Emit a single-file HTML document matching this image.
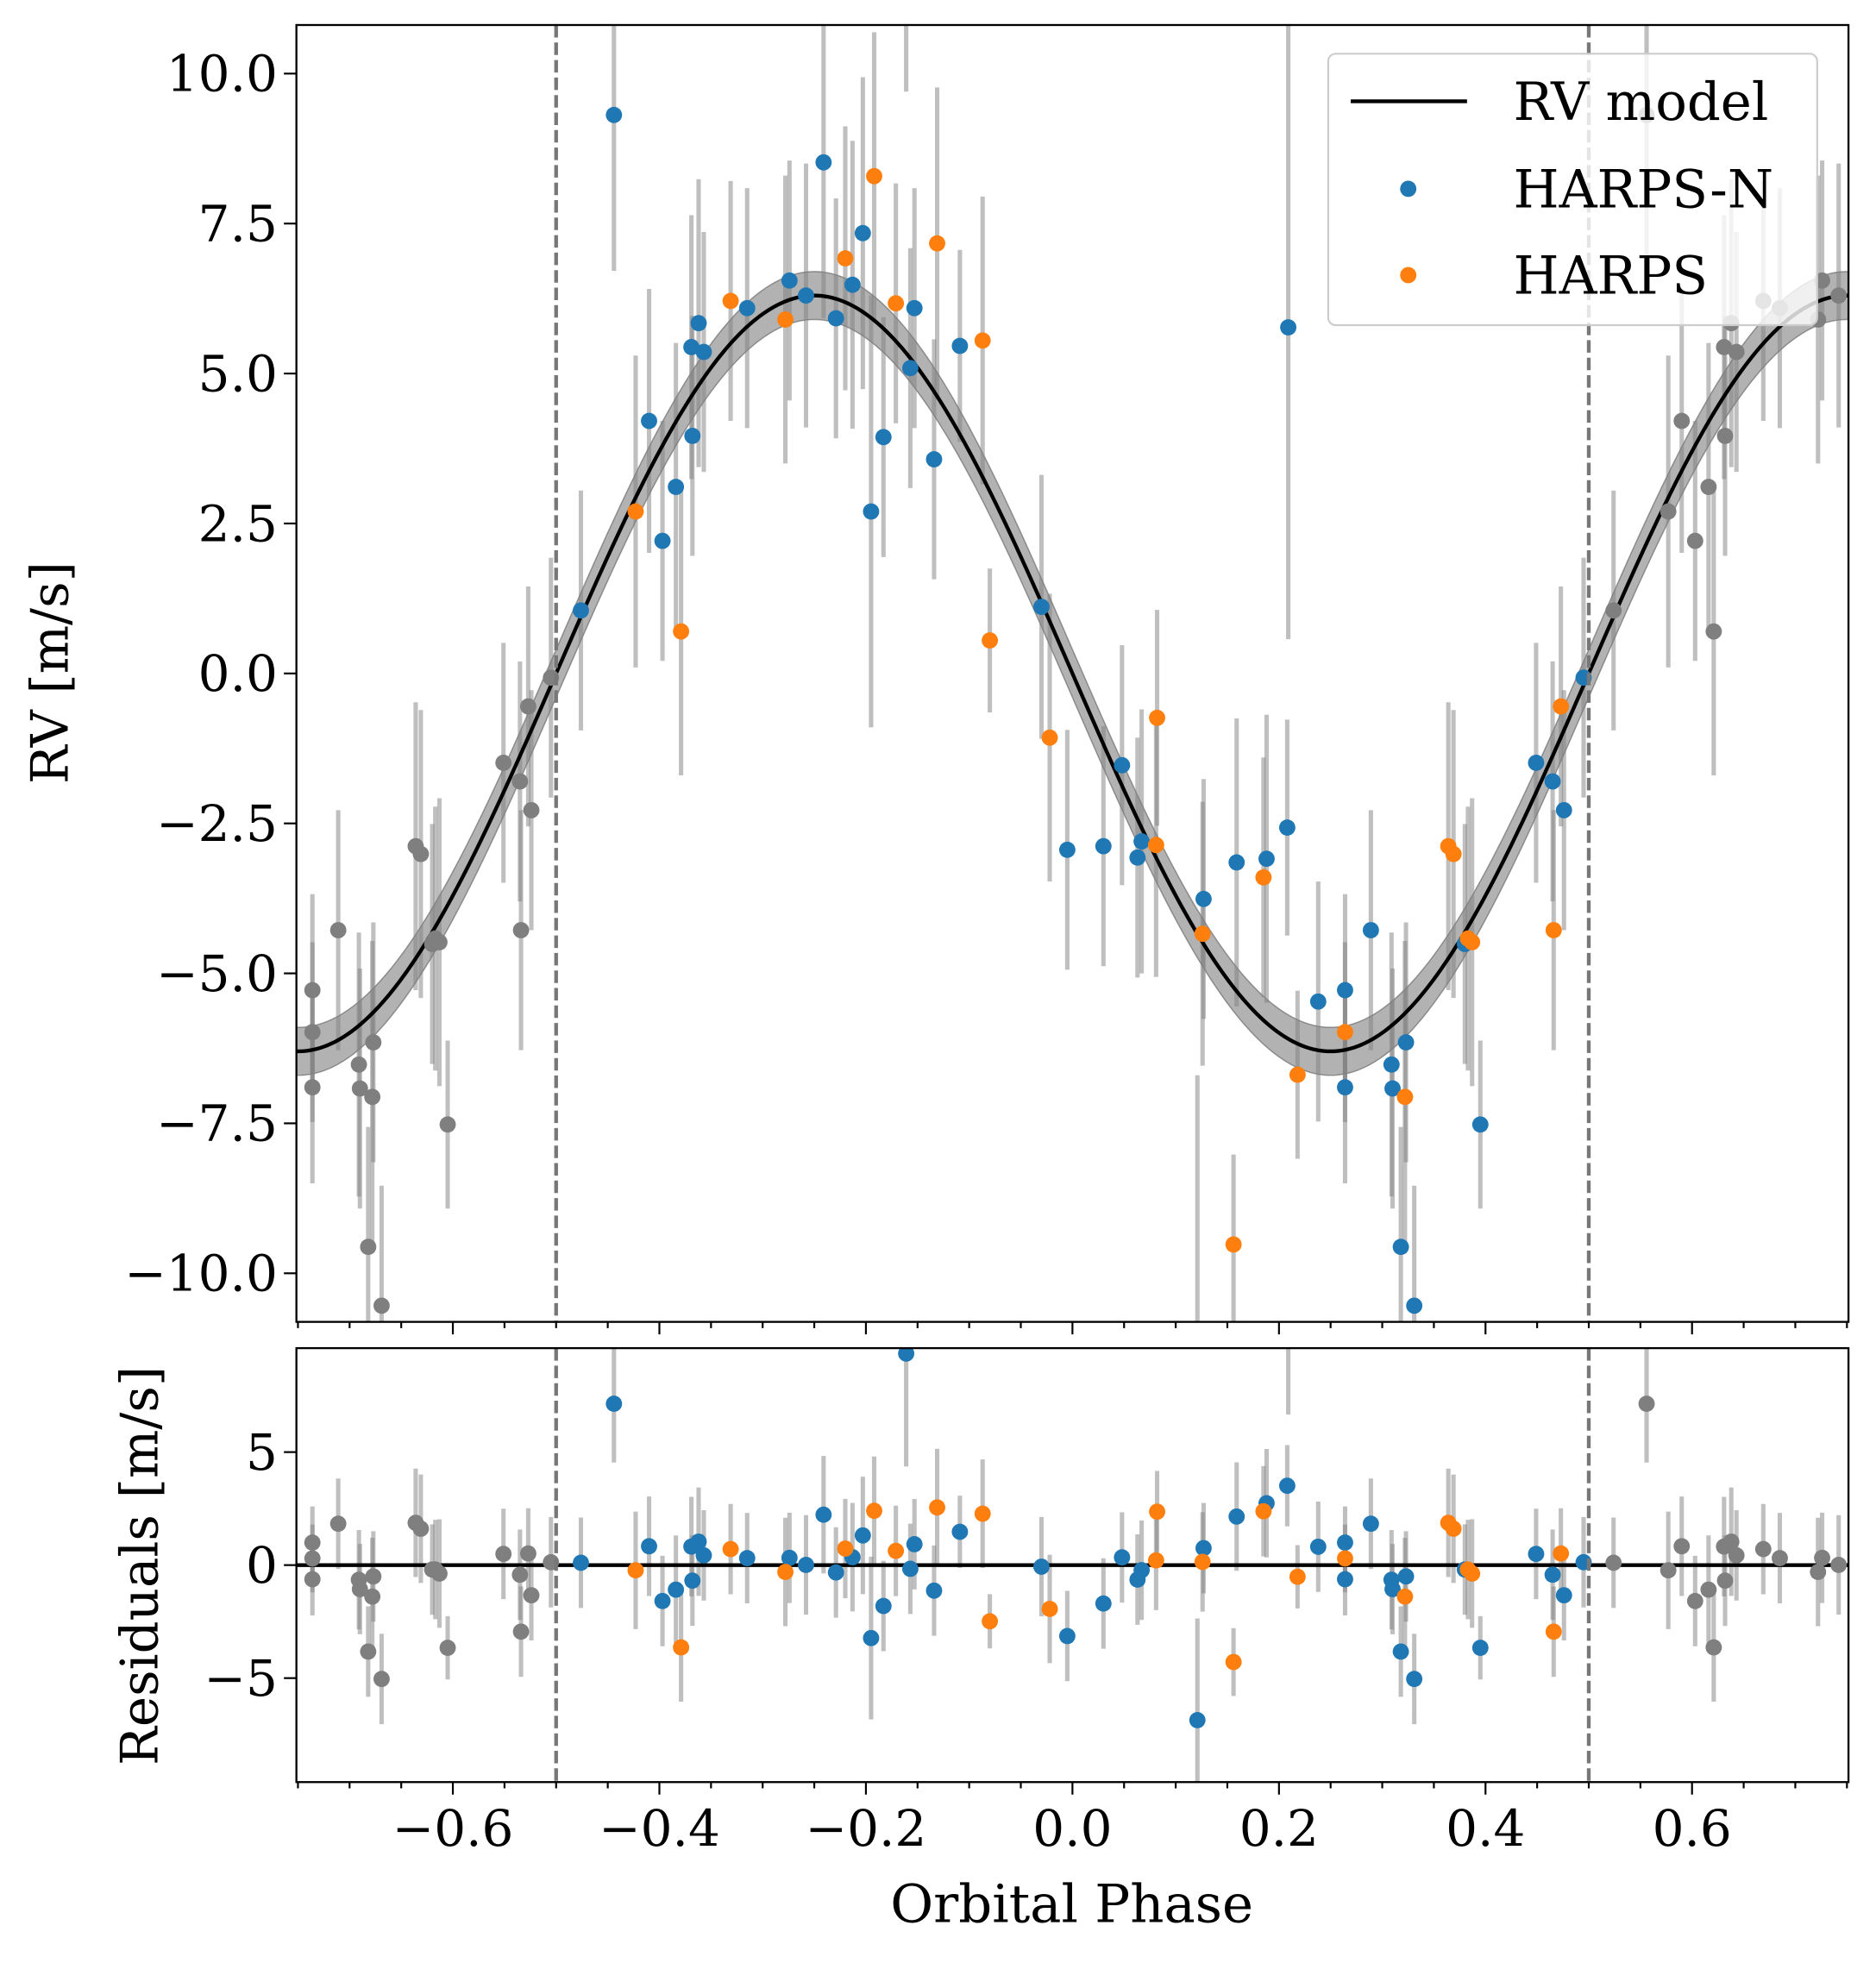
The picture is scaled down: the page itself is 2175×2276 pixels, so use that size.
<!DOCTYPE html>
<html><head><meta charset="utf-8"><style>
html,body{margin:0;padding:0;background:#fff}
svg{display:block}
text{font-family:"DejaVu Serif","Liberation Serif",serif;fill:#000}
</style></head><body>
<svg id="chart" width="2175" height="2276" viewBox="0 0 1500 1569.66" xmlns="http://www.w3.org/2000/svg">
<defs>
<clipPath id="clipTop"><rect x="237" y="20" width="1241" height="1037"/></clipPath>
<clipPath id="clipBot"><rect x="237" y="1078" width="1241" height="347"/></clipPath>
</defs>
<g id="topBand" clip-path="url(#clipTop)"></g>
<g id="topErr" clip-path="url(#clipTop)"></g>
<g id="topModel" clip-path="url(#clipTop)"></g>
<g id="topPts" clip-path="url(#clipTop)"></g>
<g id="botErr" clip-path="url(#clipBot)"></g>
<g id="botZero" clip-path="url(#clipBot)"></g>
<g id="botPts" clip-path="url(#clipBot)"></g>
<g id="axes"></g>
<text x="54" y="538" font-size="41" text-anchor="middle" transform="rotate(-90 54 538)">RV [m/s]</text>
<text x="126" y="1252" font-size="41" text-anchor="middle" transform="rotate(-90 126 1252)">Residuals [m/s]</text>
<text x="857" y="1537" font-size="42" text-anchor="middle">Orbital Phase</text>
<g>
<rect x="1062" y="43" width="391" height="217" rx="6" fill="#fff" fill-opacity="0.8" stroke="#ccc" stroke-width="1.5"/>
<line x1="1080" y1="81" x2="1173" y2="81" stroke="#000" stroke-width="3"/>
<text x="1210" y="96" font-size="42">RV model</text>
<circle cx="1126" cy="151" r="6.5" fill="#1f77b4"/>
<text x="1210" y="166" font-size="42">HARPS-N</text>
<circle cx="1126" cy="220" r="6.5" fill="#ff7f0e"/>
<text x="1210" y="235" font-size="42">HARPS</text>
</g>
</svg>
<script>
const hnPhase=[-0.476,-0.444,-0.410,-0.397,-0.384,-0.369,-0.368,-0.362,-0.357,-0.315,-0.274,-0.258,-0.241,-0.229,-0.213,-0.203,-0.195,-0.183,-0.161,-0.157,-0.153,-0.134,-0.109,-0.030,-0.005,0.030,0.048,0.063,0.067,0.121,0.127,0.159,0.188,0.208,0.209,0.238,0.264,0.264,0.289,0.309,0.310,0.318,0.323,0.331,0.380,0.395,0.449,0.465,0.476,0.495];
const hnRV=[1.05,9.31,4.21,2.21,3.11,5.44,3.96,5.84,5.36,6.09,6.55,6.30,8.52,5.92,6.48,7.34,2.70,3.94,14.7,5.09,6.09,3.57,5.46,1.11,-2.94,-2.88,-1.53,-3.07,-2.80,-11.2,-3.76,-3.15,-3.09,-2.57,5.77,-5.47,-5.28,-6.90,-4.28,-6.52,-6.92,-9.56,-6.15,-10.54,-4.51,-7.52,-1.49,-1.80,-2.28,-0.07];
const hnErr=[2.0,2.6,2.2,2.0,2.4,2.2,2.0,2.4,2.0,2.0,2.0,2.2,2.6,2.0,2.4,2.6,3.6,2.0,5.0,2.0,2.0,2.0,1.6,2.2,2.0,2.0,2.0,2.0,2.2,4.5,2.0,2.4,2.4,1.8,5.2,2.0,1.6,1.6,2.0,2.2,2.0,2.0,2.0,2.0,2.0,1.4,2.0,2.0,2.0,2.0];
const hPhase=[-0.423,-0.379,-0.331,-0.278,-0.220,-0.192,-0.171,-0.131,-0.087,-0.080,-0.022,0.082,0.081,0.126,0.156,0.185,0.218,0.264,0.322,0.364,0.369,0.383,0.387,0.466,0.473];
const hRV=[2.70,0.70,6.21,5.90,6.92,8.29,6.17,7.17,5.55,0.55,-1.07,-0.74,-2.86,-4.34,-9.52,-3.40,-6.69,-5.98,-7.06,-2.88,-3.01,-4.42,-4.48,-4.28,-0.55];
const hErr=[2.6,2.4,2.0,2.4,2.2,2.4,2.0,2.6,2.4,1.2,2.4,1.8,2.2,2.2,1.5,2.0,1.4,1.5,2.6,2.4,2.4,2.2,2.4,2.0,2.0];
const K=6.3, bandW=0.4;
const xTicks=[-0.6,-0.4,-0.2,0.0,0.2,0.4,0.6];
const yTicksTop=[-10,-7.5,-5,-2.5,0,2.5,5,7.5,10];
const yTicksBot=[-5,0,5];

const NS="http://www.w3.org/2000/svg";
const L=237,R=1478,T1=20,B1=1057,T2=1078,B2=1425;
const xmin=-0.7515,xmax=0.7515;
const X=p=>L+(p-xmin)/(xmax-xmin)*(R-L);
const Y1=v=>T1+(10.81-v)/(21.62)*(B1-T1);
const Y2=v=>T2+(9.6-v)/(19.2)*(B2-T2);
const model=p=>-K*Math.sin(2*Math.PI*p);
function mk(tag,attrs,parent){const e=document.createElementNS(NS,tag);for(const k in attrs)e.setAttribute(k,attrs[k]);parent.appendChild(e);return e;}
const g=id=>document.getElementById(id);

let up=[],lo=[],ml=[];
for(let i=0;i<=600;i++){const p=xmin+(xmax-xmin)*i/600;const m=model(p);up.push(X(p)+','+Y1(m+bandW));lo.unshift(X(p)+','+Y1(m-bandW));ml.push(X(p)+','+Y1(m));}
const band=mk('polygon',{points:up.concat(lo).join(' '),fill:'#000','fill-opacity':0.3,stroke:'#444','stroke-opacity':0.5,'stroke-width':1},g('topBand'));


const ln=mk('polyline',{points:ml.join(' '),fill:'none',stroke:'#000','stroke-width':3},g('topModel'));


const z=mk('line',{x1:L,x2:R,y1:Y2(0),y2:Y2(0),stroke:'#000','stroke-width':3},g('botZero'));



function plotSet(ph,rv,er,color,name){
  for(let i=0;i<ph.length;i++){
    const copies=[[ph[i],color]];
    if(ph[i]>0.25)copies.push([ph[i]-1,'#7f7f7f']);
    if(ph[i]<-0.25)copies.push([ph[i]+1,'#7f7f7f']);
    for(const [p,c] of copies){
      if(p<xmin-0.01||p>xmax+0.01)continue;
      const res=rv[i]-model(ph[i]);
      const e1=mk('line',{x1:X(p),x2:X(p),y1:Y1(rv[i]-er[i]),y2:Y1(rv[i]+er[i]),stroke:'#808080','stroke-opacity':0.5,'stroke-width':3.5},g('topErr'));
      
      
      const e2=mk('line',{x1:X(p),x2:X(p),y1:Y2(res-er[i]),y2:Y2(res+er[i]),stroke:'#808080','stroke-opacity':0.5,'stroke-width':3.5},g('botErr'));
      
      
      const c1=mk('circle',{cx:X(p),cy:Y1(rv[i]),r:6.5,fill:c},g('topPts'));
      
      
      const c2=mk('circle',{cx:X(p),cy:Y2(res),r:6.5,fill:c},g('botPts'));
      
      
    }
  }
}
plotSet(hnPhase,hnRV,hnErr,'#1f77b4','harpsn');
plotSet(hPhase,hRV,hErr,'#ff7f0e','harps');

const ax=g('axes');
for(const [t,b] of [[T1,B1],[T2,B2]]){
  for(const p of [-0.5,0.5]){
    const d=mk('line',{x1:X(p),x2:X(p),y1:t,y2:b,stroke:'#777','stroke-width':3,'stroke-dasharray':'10,4'},ax);
    
    
  }
  const r=mk('rect',{x:L,y:t,width:R-L,height:b-t,fill:'none',stroke:'#000','stroke-width':1.6},ax);
  
  
  for(let k=-15;k<=15;k++){const p=k*0.05;if(p<xmin||p>xmax)continue;const major=k%4==0;
    const tk=mk('line',{x1:X(p),x2:X(p),y1:b,y2:b+(major?10:5),stroke:'#000','stroke-width':1.5},ax);
    
    }
}
const fmtNum=v=>(v<0?'\u2212':'')+Math.abs(v).toFixed(1);
for(const p of xTicks){
  const t=mk('text',{x:X(p),y:B2+51,'font-size':40,'text-anchor':'middle'},ax);t.textContent=fmtNum(p);
  
  
}
for(const v of yTicksTop){
  const tk=mk('line',{x1:L-10,x2:L,y1:Y1(v),y2:Y1(v),stroke:'#000','stroke-width':1.5},ax);
  
  
  const t=mk('text',{x:L-15,y:Y1(v)+14,'font-size':40,'text-anchor':'end'},ax);t.textContent=fmtNum(v);
  
  
}
for(const v of yTicksBot){
  const tk=mk('line',{x1:L-10,x2:L,y1:Y2(v),y2:Y2(v),stroke:'#000','stroke-width':1.5},ax);
  
  
  const t=mk('text',{x:L-15,y:Y2(v)+14,'font-size':40,'text-anchor':'end'},ax);t.textContent=(v<0?'\u2212':'')+Math.abs(v);
  
  
}
</script>
</body></html>
